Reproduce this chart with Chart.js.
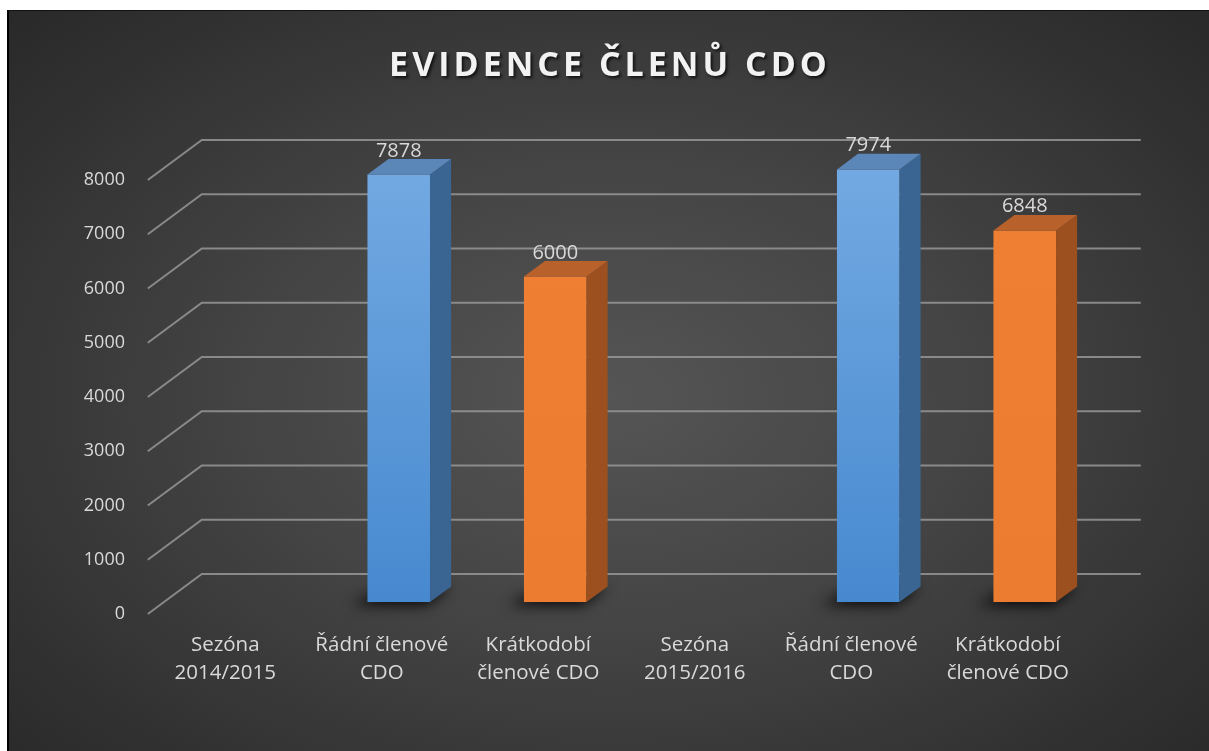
<!DOCTYPE html>
<html>
<head>
<meta charset="utf-8">
<script src="https://cdn.jsdelivr.net/npm/chart.js@4.4.1/dist/chart.umd.min.js"></script>
<style>
  html, body { margin: 0; padding: 0; background: #ffffff; width: 1209px; height: 751px; overflow: hidden; }
  #box {
    position: absolute; left: 7px; top: 10px; width: 1202px; height: 741px;
    border-left: 2px solid #000; border-top: 1px solid #111;
    background: radial-gradient(ellipse 75% 80% at 50% 52%, #555555 0%, #444444 40%, #2f2f2f 80%, #262626 100%);
  }
  #c { position: absolute; left: 0; top: 0; }
</style>
</head>
<body>
<div id="box"><canvas id="c" width="1200" height="741"></canvas></div>
<script>
// ---- data ----
const chartTitle = "EVIDENCE ČLENŮ CDO";
const categories = [
  ["Sezóna", "2014/2015"],
  ["Řádní členové", "CDO"],
  ["Krátkodobí", "členové CDO"],
  ["Sezóna", "2015/2016"],
  ["Řádní členové", "CDO"],
  ["Krátkodobí", "členové CDO"]
];
const memberType = ["season", "regular", "short", "season", "regular", "short"];
const memberCounts = [null, 7878, 6000, null, 7974, 6848];
const yTicks = [0, 1000, 2000, 3000, 4000, 5000, 6000, 7000, 8000];

// ---- styles ----
const FONT = "'Open Sans', 'DejaVu Sans', sans-serif";
const DEPTH_X = 54, DEPTH_Y = 40;      // full floor depth
const FRONT_FRAC = 0.3, BAR_FRAC = 0.39; // bar plane position & bar depth
const palette = {
  regular: { top: "#5b86b8", side: "#3a6592", g0: "#72a9e2", g1: "#4789cf" },
  short:   { top: "#b9612a", side: "#9c501f", g0: "#ef7f33", g1: "#ec7c30" }
};

function frontColor(ctx) {
  const chart = ctx.chart, area = chart.chartArea;
  const t = memberType[ctx.dataIndex];
  const p = palette[t] || palette.regular;
  if (!area) return p.g1;
  const g = chart.ctx.createLinearGradient(0, area.top, 0, area.bottom);
  g.addColorStop(0, p.g0);
  g.addColorStop(1, p.g1);
  return g;
}

const threeD = {
  id: "threeD",
  beforeDatasetsDraw(chart) {
    const { ctx, scales: { x, y } } = chart;
    const fx = DEPTH_X * FRONT_FRAC, fy = DEPTH_Y * FRONT_FRAC;
    const bx = DEPTH_X * (1 - FRONT_FRAC), by = DEPTH_Y * (1 - FRONT_FRAC);
    ctx.save();
    ctx.strokeStyle = "rgba(150,150,150,0.85)";
    ctx.lineWidth = 2;
    yTicks.forEach(v => {
      const py = y.getPixelForValue(v);
      ctx.beginPath();
      ctx.moveTo(x.left - fx, py + fy);
      ctx.lineTo(x.left + bx, py - by);
      ctx.lineTo(x.right + bx, py - by);
      ctx.stroke();
    });
    // shadows
    const meta = chart.getDatasetMeta(0);
    ctx.filter = "blur(7px)";
    ctx.fillStyle = "rgba(0,0,0,0.9)";
    meta.data.forEach((bar, i) => {
      if (memberCounts[i] == null) return;
      const w = bar.width, l = bar.x - w / 2, r = bar.x + w / 2, b = bar.base;
      const dx = DEPTH_X * BAR_FRAC, dy = DEPTH_Y * BAR_FRAC;
      ctx.beginPath();
      ctx.moveTo(l - 16, b + 3);
      ctx.lineTo(r - 4, b + 3);
      ctx.lineTo(r + dx, b - dy);
      ctx.lineTo(l + dx, b - dy);
      ctx.closePath();
      ctx.fill();
    });
    ctx.restore();
  },
  afterDatasetsDraw(chart) {
    const { ctx } = chart;
    const meta = chart.getDatasetMeta(0);
    const dx = DEPTH_X * BAR_FRAC, dy = DEPTH_Y * BAR_FRAC;
    ctx.save();
    meta.data.forEach((bar, i) => {
      const v = memberCounts[i];
      if (v == null) return;
      const p = palette[memberType[i]];
      const w = bar.width, l = bar.x - w / 2, r = bar.x + w / 2, t = bar.y, b = bar.base;
      // side
      ctx.fillStyle = p.side;
      ctx.beginPath();
      ctx.moveTo(r, t); ctx.lineTo(r + dx, t - dy); ctx.lineTo(r + dx, b - dy); ctx.lineTo(r, b);
      ctx.closePath(); ctx.fill();
      // top
      ctx.fillStyle = p.top;
      ctx.beginPath();
      ctx.moveTo(l, t); ctx.lineTo(l + dx, t - dy); ctx.lineTo(r + dx, t - dy); ctx.lineTo(r, t);
      ctx.closePath(); ctx.fill();
      // value label
      ctx.fillStyle = "#d9d9d9";
      ctx.font = "20px " + FONT;
      ctx.textAlign = "center";
      ctx.textBaseline = "alphabetic";
      ctx.fillText(String(v), bar.x, t - 18);
    });
    ctx.restore();
  },
  afterDraw(chart) {
    const { ctx } = chart;
    ctx.save();
    ctx.font = "bold 34px " + FONT;
    ctx.fillStyle = "#f2f2f2";
    ctx.textAlign = "center";
    ctx.textBaseline = "alphabetic";
    try { ctx.letterSpacing = "4px"; } catch (e) {}
    ctx.shadowColor = "rgba(0,0,0,0.7)";
    ctx.shadowOffsetX = 2; ctx.shadowOffsetY = 2; ctx.shadowBlur = 3;
    ctx.fillText(chartTitle, 601, 65);
    ctx.restore();
  }
};

new Chart(document.getElementById("c"), {
  type: "bar",
  data: {
    labels: categories,
    datasets: [{
      data: memberCounts,
      backgroundColor: frontColor,
      borderWidth: 0,
      barPercentage: 0.4,
      categoryPercentage: 1.0
    }]
  },
  options: {
    responsive: false,
    animation: false,
    events: [],
    layout: { padding: { left: 20, right: 106, top: 157, bottom: 0 } },
    plugins: { legend: { display: false }, title: { display: false }, tooltip: { enabled: false } },
    scales: {
      x: {
        grid: { display: false }, border: { display: false },
        afterFit(s) { s.height = 150; },
        ticks: {
          color: "#d9d9d9", font: { family: FONT, size: 20.5, lineHeight: 1.37 },
          padding: 21, labelOffset: -17, maxRotation: 0, autoSkip: false
        }
      },
      y: {
        min: 0, max: 8000,
        grid: { display: false }, border: { display: false },
        afterFit(s) { s.width = 135; },
        afterBuildTicks(s) { s.ticks = yTicks.map(v => ({ value: v })); },
        ticks: {
          color: "#d9d9d9", font: { family: FONT, size: 18 },
          padding: 31, labelOffset: 12,
          callback: (v) => String(v)
        }
      }
    }
  },
  plugins: [threeD]
});
</script>
</body>
</html>
